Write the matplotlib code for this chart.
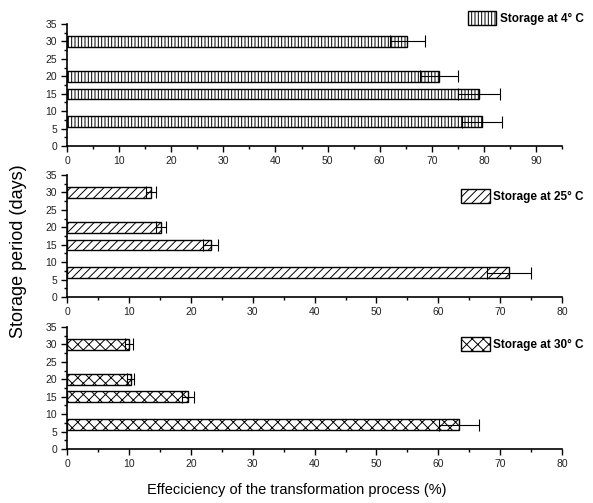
import matplotlib
matplotlib.use('Agg')
import matplotlib.pyplot as plt
from matplotlib.ticker import MultipleLocator

plt.rcParams['font.family'] = ['Liberation Sans', 'DejaVu Sans']
plt.rcParams['hatch.linewidth'] = 0.7
plt.rcParams['hatch.color'] = '#333333'

days = [7, 15, 20, 30]

eff_4 = [79.6, 79.0, 71.4, 65.3]
err_4 = [3.9, 4.0, 3.6, 3.4]

eff_25 = [71.4, 23.2, 15.2, 13.6]
err_25 = [3.5, 1.2, 0.8, 0.8]

eff_30 = [63.3, 19.5, 10.3, 10.0]
err_30 = [3.2, 1.0, 0.6, 0.6]

labels = ['Storage at 4° C', 'Storage at 25° C', 'Storage at 30° C']
hatches = ['|||||', '////', 'xxx']
xmax = [95, 80, 80]
legend_y = [1.05, 0.83, 0.86]

fig = plt.figure(figsize=(5.93, 5.03), dpi=100)
bottoms = [0.7097, 0.4095, 0.1074]

for i, (vals, errs) in enumerate([(eff_4, err_4), (eff_25, err_25), (eff_30, err_30)]):
    ax = fig.add_axes([0.113, bottoms[i], 0.835, 0.2425])
    ax.barh(days, vals, height=3, color='white', edgecolor='black',
            linewidth=1.0, hatch=hatches[i], label=labels[i], zorder=2)
    ax.errorbar(vals, days, xerr=errs, fmt='none', ecolor='black',
                elinewidth=0.8, capsize=4, capthick=0.8, zorder=3)
    ax.set_xlim(0, xmax[i])
    ax.set_ylim(0, 35)
    ax.xaxis.set_major_locator(MultipleLocator(10))
    ax.xaxis.set_minor_locator(MultipleLocator(5))
    ax.yaxis.set_major_locator(MultipleLocator(5))
    ax.yaxis.set_minor_locator(MultipleLocator(2.5))
    ax.spines['top'].set_visible(False)
    ax.spines['right'].set_visible(False)
    ax.spines['left'].set_linewidth(1.2)
    ax.spines['bottom'].set_linewidth(1.2)
    ax.tick_params(which='major', direction='out', length=4, width=1.0,
                   labelsize=7.5, labelcolor='#222222', pad=3)
    ax.tick_params(which='minor', direction='out', length=2.5, width=1.0)
    leg = ax.legend(loc='center right', bbox_to_anchor=(1.065, legend_y[i]),
                    frameon=False, handlelength=2.4, handleheight=1.4,
                    handletextpad=0.3, prop={'weight': 'bold', 'size': 8.5})

fig.text(0.032, 0.5, 'Storage period (days)', rotation=90, va='center',
         ha='center', fontsize=13)
fig.text(0.5, 0.025, 'Effeciciency of the transformation process (%)',
         ha='center', va='center', fontsize=10.5)

fig.savefig('out.png', dpi=100)
